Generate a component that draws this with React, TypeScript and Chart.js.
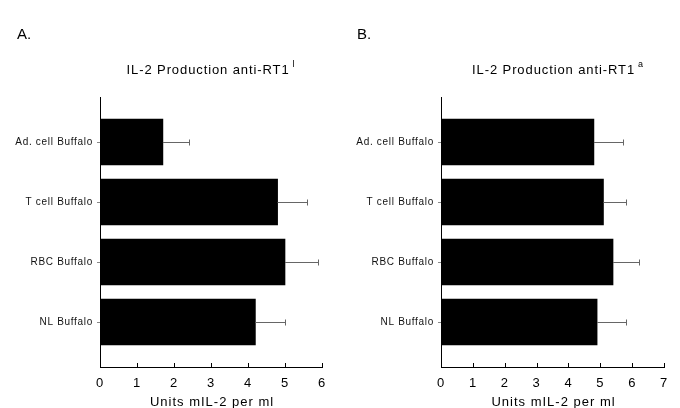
import React, { useEffect, useRef } from 'react';
import { Chart, registerables } from 'chart.js';

Chart.register(...registerables);

const categories = ['Ad. cell Buffalo', 'T cell Buffalo', 'RBC Buffalo', 'NL Buffalo'];
const valuesA = [1.7, 4.8, 5.0, 4.2];
const errorsA = [0.7, 0.8, 0.9, 0.8];
const valuesB = [4.8, 5.1, 5.4, 4.9];
const errorsB = [0.9, 0.7, 0.8, 0.9];
const xTicksA = [0, 1, 2, 3, 4, 5, 6];
const xTicksB = [0, 1, 2, 3, 4, 5, 6, 7];
const panelLetters = ['A.', 'B.'];
const titleMain = 'IL-2 Production anti-RT1';
const titleSups = ['l', 'a'];
const xAxisTitle = 'Units mIL-2 per ml';

const FONT = "'Liberation Sans', Arial, Helvetica, sans-serif";

const spacingPlugin = {
  id: 'spacing',
  beforeDraw(chart: any) {
    (chart.ctx as any).letterSpacing = '0.7px';
  },
};

const panelPlugin = {
  id: 'panelDeco',
  afterDatasetsDraw(chart: any, _args: any, opts: any) {
    const { ctx, chartArea } = chart;
    const x = chart.scales.x;
    const meta = chart.getDatasetMeta(0);
    ctx.save();
    // error bars
    ctx.strokeStyle = '#666';
    ctx.lineWidth = 1;
    meta.data.forEach((bar: any, i: number) => {
      const v = opts.values[i];
      const e = opts.errors[i];
      const x0 = x.getPixelForValue(v);
      const x1 = Math.round(x.getPixelForValue(v + e)) + 0.5;
      const yc = Math.round(bar.y) + 0.5;
      ctx.beginPath();
      ctx.moveTo(x0, yc);
      ctx.lineTo(x1, yc);
      ctx.moveTo(x1, yc - 3);
      ctx.lineTo(x1, yc + 3);
      ctx.stroke();
    });
    // inward x ticks
    ctx.strokeStyle = '#000';
    opts.xTicks.forEach((t: number) => {
      const px = Math.round(x.getPixelForValue(t)) + 0.5;
      ctx.beginPath();
      ctx.moveTo(px, chartArea.bottom);
      ctx.lineTo(px, chartArea.bottom - 4);
      ctx.stroke();
    });
    ctx.fillStyle = '#000';
    ctx.textBaseline = 'alphabetic';
    ctx.textAlign = 'left';
    // panel letter
    (ctx as any).letterSpacing = '0px';
    ctx.font = `15px ${FONT}`;
    ctx.fillText(opts.letter, 17, 39);
    // title with superscript
    (ctx as any).letterSpacing = '0.9px';
    ctx.font = `13px ${FONT}`;
    const wMain = ctx.measureText(titleMain).width;
    ctx.font = `9px ${FONT}`;
    const wSup = ctx.measureText(opts.sup).width;
    const total = wMain + 3 + wSup;
    const startX = opts.titleCenter - total / 2;
    ctx.font = `13px ${FONT}`;
    ctx.fillText(titleMain, startX, 74);
    ctx.font = `9px ${FONT}`;
    ctx.fillText(opts.sup, startX + wMain + 3, 67);
    // x axis title
    (ctx as any).letterSpacing = '1px';
    ctx.font = `13px ${FONT}`;
    ctx.textAlign = 'center';
    ctx.fillText(xAxisTitle, (chartArea.left + chartArea.right) / 2 + 1, 406);
    ctx.restore();
  },
};

function Panel(props: {
  values: number[];
  errors: number[];
  xTicks: number[];
  letter: string;
  sup: string;
  axisLeft: number;
  rightPad: number;
  titleCenter: number;
}) {
  const ref = useRef<HTMLCanvasElement>(null);
  useEffect(() => {
    const canvas = ref.current!;
    const xMax = props.xTicks[props.xTicks.length - 1];
    const chart = new Chart(canvas, {
      type: 'bar',
      data: {
        datasets: [
          {
            data: props.values.map((v, i) => ({ x: v, y: i })),
            backgroundColor: '#000',
            borderWidth: 0,
            barThickness: 46,
          },
        ],
      },
      options: {
        indexAxis: 'y',
        responsive: false,
        animation: false,
        events: [],
        layout: { padding: { left: 0, right: props.rightPad, top: 97, bottom: 0 } },
        plugins: {
          legend: { display: false },
          tooltip: { enabled: false },
          title: { display: false },
          panelDeco: {
            values: props.values,
            errors: props.errors,
            xTicks: props.xTicks,
            letter: props.letter,
            sup: props.sup,
            titleCenter: props.titleCenter,
          },
        } as any,
        scales: {
          x: {
            type: 'linear',
            min: 0,
            max: xMax,
            offset: false,
            afterBuildTicks: (s: any) => {
              s.ticks = props.xTicks.map((v) => ({ value: v }));
            },
            afterFit: (s: any) => {
              s.height = 41;
            },
            ticks: {
              color: '#000',
              font: { family: FONT, size: 13 },
              padding: 9,
              maxRotation: 0,
            },
            grid: { display: true, drawOnChartArea: false, drawTicks: false, offset: false },
            border: { display: true, color: '#000', width: 1 },
          },
          y: {
            type: 'linear',
            min: -0.75,
            max: 3.75,
            reverse: true,
            offset: false,
            afterBuildTicks: (s: any) => {
              s.ticks = categories.map((_c, i) => ({ value: i }));
            },
            afterFit: (s: any) => {
              s.width = props.axisLeft;
            },
            ticks: {
              color: '#111',
              font: { family: FONT, size: 10 },
              padding: 4,
              callback: (v: any) => categories[Math.round(Number(v))] ?? '',
            },
            grid: { display: true, drawOnChartArea: false, drawTicks: true, tickLength: 3, color: '#888', offset: false },
            border: { display: true, color: '#000', width: 1 },
          },
        },
      },
      plugins: [spacingPlugin, panelPlugin],
    } as any);
    return () => chart.destroy();
  }, []);
  return <canvas ref={ref} width={340} height={408} style={{ display: 'block', width: 340, height: 408 }} />;
}

export default function App() {
  return (
    <div
      style={{
        position: 'fixed',
        left: 0,
        top: 0,
        width: 680,
        height: 408,
        background: '#fff',
        display: 'flex',
      }}
    >
      <Panel values={valuesA} errors={errorsA} xTicks={xTicksA} letter={panelLetters[0]} sup={titleSups[0]} axisLeft={100} rightPad={18} titleCenter={211} />
      <Panel values={valuesB} errors={errorsB} xTicks={xTicksB} letter={panelLetters[1]} sup={titleSups[1]} axisLeft={101} rightPad={16} titleCenter={218} />
    </div>
  );
}
